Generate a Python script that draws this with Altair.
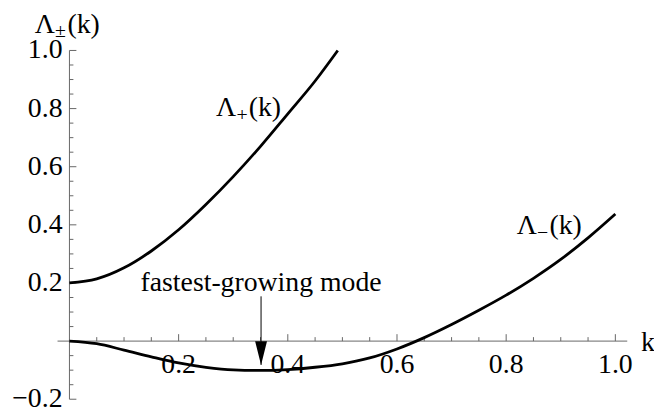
import altair as alt
import pandas as pd

# ---------------- data ----------------
k_plus = [0.0, 0.05, 0.10, 0.15, 0.20, 0.25, 0.30, 0.35, 0.40, 0.45, 0.4915]
lam_plus = [0.200, 0.214, 0.252, 0.310, 0.383, 0.470, 0.566, 0.670, 0.782, 0.895, 1.000]

k_minus = [0.0, 0.05, 0.10, 0.15, 0.20, 0.25, 0.30, 0.35, 0.40, 0.45, 0.50,
           0.55, 0.60, 0.65, 0.70, 0.75, 0.80, 0.85, 0.90, 0.95, 1.00]
lam_minus = [0.000, -0.009, -0.031, -0.054, -0.075, -0.090, -0.099, -0.101, -0.098, -0.090, -0.078,
             -0.058, -0.027, 0.012, 0.057, 0.106, 0.158, 0.216, 0.281, 0.355, 0.437]

x_major = [0.2, 0.4, 0.6, 0.8, 1.0]
x_tick_labels = ["0.2", "0.4", "0.6", "0.8", "1.0"]
x_minor = [0.05, 0.10, 0.15, 0.25, 0.30, 0.35, 0.45, 0.50, 0.55,
           0.65, 0.70, 0.75, 0.85, 0.90, 0.95]
y_major = [-0.2, 0.2, 0.4, 0.6, 0.8, 1.0]
y_tick_labels = ["\u22120.2", "0.2", "0.4", "0.6", "0.8", "1.0"]
y_minor = [-0.15, -0.10, -0.05, 0.05, 0.10, 0.15, 0.25, 0.30, 0.35, 0.45, 0.50,
           0.55, 0.65, 0.70, 0.75, 0.85, 0.90, 0.95]

mode_k = 0.351           # fastest-growing mode
arrow_tail = 0.154
arrow_tip = -0.082
mode_text = "fastest-growing mode"

label_subs = ["\u00b1", "+", "\u2212"]   # title, Λ+ label, Λ− label

# ---------------- layout / style ----------------
X0, X1 = -0.0218, 1.0218
Y0, Y1 = -0.2, 1.0
W, H = 575, 352
PX = W / (X1 - X0)
PY = H / (Y1 - Y0)
MAJ, MIN = 7.0, 4.0
FONT = "Liberation Serif"
FS = 28
AXC = "#666666"

# annotation anchors (data coordinates, left edge / baseline of "Λ")
lab_x = [-0.0635, 0.2686, 0.8194]
lab_y = [1.0604, 0.774, 0.368]

xs = alt.Scale(domain=[X0, X1], nice=False, zero=False)
ys = alt.Scale(domain=[Y0, Y1], nice=False, zero=False)


def X(f):
    return alt.X(f, type="quantitative", scale=xs, axis=None)


def Y(f):
    return alt.Y(f, type="quantitative", scale=ys, axis=None)


curves = pd.DataFrame({
    "k": k_plus + k_minus,
    "lam": lam_plus + lam_minus,
    "series": ["plus"] * len(k_plus) + ["minus"] * len(k_minus),
})

axes_df = pd.DataFrame({"x": [X0, 0.0], "x2": [X1, 0.0], "y": [0.0, Y0], "y2": [0.0, Y1]})

rows = []
for v in x_major:
    rows.append({"x": v, "x2": v, "y": 0.0, "y2": MAJ / PY})
for v in x_minor:
    rows.append({"x": v, "x2": v, "y": 0.0, "y2": MIN / PY})
for v in y_major:
    rows.append({"x": 0.0, "x2": MAJ / PX, "y": v, "y2": v})
for v in y_minor:
    rows.append({"x": 0.0, "x2": MIN / PX, "y": v, "y2": v})
ticks_df = pd.DataFrame(rows)

xlab_df = pd.DataFrame({"x": x_major, "y": [0.0] * len(x_major), "t": x_tick_labels})
ylab_df = pd.DataFrame({"x": [0.0] * len(y_major), "y": y_major, "t": y_tick_labels})
lab_df = pd.DataFrame({"x": lab_x, "y": lab_y, "sub": label_subs})
arrow_df = pd.DataFrame({"x": [mode_k], "y": [arrow_tail], "y2": [arrow_tip]})
tip_df = pd.DataFrame({"x": [mode_k], "y": [arrow_tip]})
mode_df = pd.DataFrame({"x": [mode_k], "y": [0.174], "t": [mode_text]})
k_df = pd.DataFrame({"x": [1.047], "y": [-0.034], "t": ["k"]})

axis_lines = alt.Chart(axes_df).mark_rule(color=AXC, strokeWidth=1).encode(
    x=X("x"), x2="x2", y=Y("y"), y2="y2")
tick_marks = alt.Chart(ticks_df).mark_rule(color=AXC, strokeWidth=1).encode(
    x=X("x"), x2="x2", y=Y("y"), y2="y2")

lines = alt.Chart(curves).mark_line(color="black", strokeWidth=2.8, interpolate="monotone").encode(
    x=X("k"), y=Y("lam"), detail="series:N")

xlabels = alt.Chart(xlab_df).mark_text(font=FONT, fontSize=FS, align="center",
                                       baseline="alphabetic", dy=32, color="black").encode(
    x=X("x"), y=Y("y"), text="t:N")
ylabels = alt.Chart(ylab_df).mark_text(font=FONT, fontSize=FS, align="right",
                                       baseline="middle", dx=-7, color="black").encode(
    x=X("x"), y=Y("y"), text="t:N")

lam_main = alt.Chart(lab_df).mark_text(font=FONT, fontSize=FS, align="left",
                                       baseline="alphabetic", color="black").encode(
    x=X("x"), y=Y("y"), text=alt.value("\u039b"))
lam_sub = alt.Chart(lab_df).mark_text(font=FONT, fontSize=20, align="left",
                                      baseline="alphabetic", dx=20.5, dy=4.5, color="black").encode(
    x=X("x"), y=Y("y"), text="sub:N")
lam_arg = alt.Chart(lab_df).mark_text(font=FONT, fontSize=FS, align="left",
                                      baseline="alphabetic", dx=33, color="black").encode(
    x=X("x"), y=Y("y"), text=alt.value("(k)"))

arrow_line = alt.Chart(arrow_df).mark_rule(color="black", strokeWidth=1).encode(
    x=X("x"), y=Y("y"), y2="y2")
arrow_head = alt.Chart(tip_df).mark_point(shape="M-0.5,-2L0.5,-2L0,0Z", size=576, filled=True,
                                          color="black", opacity=1, strokeWidth=0).encode(
    x=X("x"), y=Y("y"))

mode_label = alt.Chart(mode_df).mark_text(font=FONT, fontSize=FS, align="center",
                                          baseline="alphabetic", color="black").encode(
    x=X("x"), y=Y("y"), text="t:N")
k_label = alt.Chart(k_df).mark_text(font=FONT, fontSize=FS, align="left",
                                    baseline="alphabetic", color="black").encode(
    x=X("x"), y=Y("y"), text="t:N")

chart = alt.layer(
    axis_lines, tick_marks, lines, xlabels, ylabels,
    lam_main, lam_sub, lam_arg, arrow_line, arrow_head, mode_label, k_label,
).properties(
    width=W, height=H,
    autosize=alt.AutoSizeParams(type="none"),
    padding={"left": 50, "top": 41, "right": 27, "bottom": 7},
    background="white",
).configure_view(stroke=None)

chart.save("out.html", embed_options={"renderer": "svg", "actions": False})
